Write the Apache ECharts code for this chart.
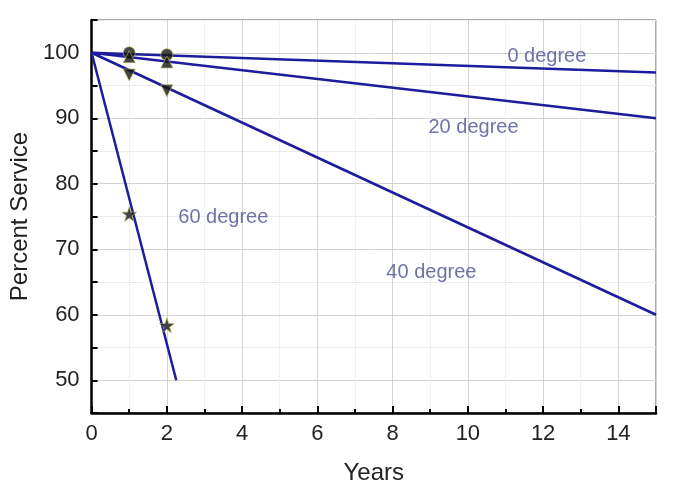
<!DOCTYPE html>
<html>
<head>
<meta charset="utf-8">
<script src="https://cdn.jsdelivr.net/npm/echarts@6/dist/echarts.min.js"></script>
<style>
  html, body { margin: 0; padding: 0; background: #fff; }
  #main { width: 700px; height: 493px; }
</style>
</head>
<body>
<div id="main"></div>
<script>
// fitted lines (start / end points)
const fitYears = [0, 15]
const fit0 = [100, 97]
const fit20 = [100, 90]
const fit40 = [100, 60]
const fit60Years = [0, 2.25]
const fit60 = [100, 50]

// measured points
const obsYears = [1, 2]
const obs0 = [100, 99.7]
const obs20 = [99.4, 98.6]
const obs40 = [96.6, 94.2]
const obs60 = [75.4, 58.4]

// line labels
const labelText = ['0 degree', '20 degree', '40 degree', '60 degree']
const labelX = [12.1, 10.15, 9.03, 3.5]
const labelY = [99.4, 88.6, 66.5, 74.9]

const lineColor = '#1c1c9c'
const starPath = 'path://M50,0 L61,35 L98,35 L68,57 L79,91 L50,70 L21,91 L32,57 L2,35 L39,35 Z'

const pair = (xs, ys) => xs.map((x, i) => [x, ys[i]])

function fitSeries (xs, ys) {
    return {
        type: 'line',
        data: pair(xs, ys),
        showSymbol: false,
        symbol: 'none',
        lineStyle: { color: lineColor, width: 2.5 },
        z: 3
    }
}

function obsSeries (ys, symbol, rotate, size) {
    return {
        type: 'scatter',
        data: pair(obsYears, ys),
        symbol: symbol,
        symbolRotate: rotate,
        symbolSize: size,
        itemStyle: { color: '#151515', borderColor: '#b8b860', borderWidth: 0.8 },
        z: 5
    }
}

const axisFont = { fontFamily: 'Liberation Sans', fontSize: 22, color: '#222' }

const option = {
    animation: false,
    grid: {
        left: 90, right: 44, top: 20, bottom: 80,
        show: true, borderColor: '#555', borderWidth: 1
    },
    xAxis: {
        type: 'value',
        min: 0,
        max: 15,
        interval: 2,
        name: 'Years',
        nameLocation: 'middle',
        nameGap: 48,
        nameTextStyle: { fontFamily: 'Liberation Sans', fontSize: 24, color: '#222' },
        axisLine: { lineStyle: { color: '#000', width: 2.5 } },
        axisTick: { inside: true, length: 7, lineStyle: { color: '#000', width: 2 } },
        minorTick: { show: true, splitNumber: 2, length: 4, lineStyle: { color: '#000', width: 2 } },
        axisLabel: Object.assign({ margin: 10, showMaxLabel: false }, axisFont),
        splitLine: { show: true, lineStyle: { color: '#d4d4d4', width: 1 } },
        minorSplitLine: { show: true, lineStyle: { color: '#e4e4e4', width: 1, type: 'dotted' } }
    },
    yAxis: {
        type: 'value',
        min: 45,
        max: 105,
        interval: 5,
        name: 'Percent Service',
        nameLocation: 'middle',
        nameGap: 53,
        nameTextStyle: { fontFamily: 'Liberation Sans', fontSize: 24, color: '#222' },
        axisLine: { show: true, lineStyle: { color: '#000', width: 2.5 } },
        axisTick: { show: true, inside: true, length: 6, lineStyle: { color: '#000', width: 2 } },
        axisLabel: Object.assign({
            margin: 12,
            formatter: (v) => (v % 10 === 0 ? String(v) : '')
        }, axisFont),
        splitLine: { show: true, lineStyle: { color: ['#ececec', '#d4d4d4'], width: 1 } }
    },
    series: [
        fitSeries(fitYears, fit0),
        fitSeries(fitYears, fit20),
        fitSeries(fitYears, fit40),
        fitSeries(fit60Years, fit60),
        obsSeries(obs0, 'circle', 0, 12),
        obsSeries(obs20, 'triangle', 0, 12),
        obsSeries(obs40, 'triangle', 180, 12),
        obsSeries(obs60, starPath, 0, 15),
        {
            type: 'scatter',
            symbolSize: 0,
            silent: true,
            data: labelText.map((t, i) => ({ value: [labelX[i], labelY[i]], name: t })),
            label: {
                show: true,
                position: 'inside',
                formatter: (p) => p.name,
                fontFamily: 'Liberation Sans',
                fontSize: 20,
                color: '#4a4f90'
            },
            z: 6
        }
    ]
}

const myChart = echarts.init(document.getElementById('main'))
myChart.setOption(option)
</script>
</body>
</html>
